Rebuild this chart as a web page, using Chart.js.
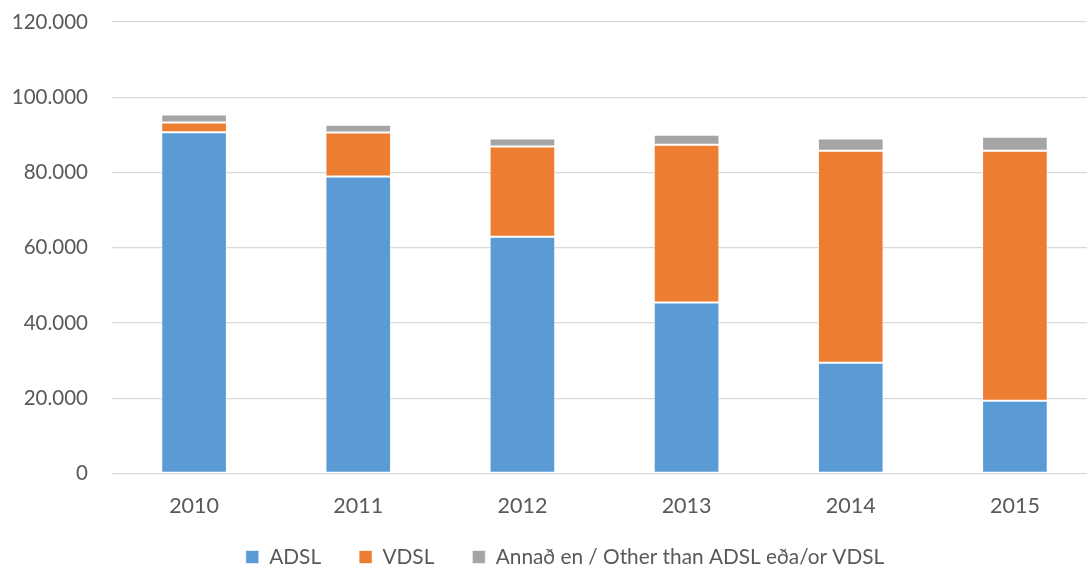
<!DOCTYPE html>
<html>
<head>
<meta charset="utf-8">
<script src="https://cdn.jsdelivr.net/npm/chart.js@4"></script>
<style>
html,body{margin:0;padding:0;background:#fff;overflow:hidden;width:1087px;height:568px;}
#wrap{position:relative;width:1130px;height:568px;}
</style>
</head>
<body>
<div id="wrap"><canvas id="c" width="1130" height="568"></canvas></div>
<script>
const categories = ['2010','2011','2012','2013','2014','2015'];
const adsl  = [90700, 78900, 62900, 45400, 29400, 19300];
const vdsl  = [2600, 11700, 24000, 42000, 56400, 66500];
const other = [2100, 2100, 2100, 2650, 3200, 3700];
const seriesNames = ['ADSL', 'VDSL', 'Annað en / Other than ADSL eða/or VDSL'];
const yMin = 0, yMax = 120000, yStep = 20000;

function fmt(v){ return String(v).replace(/\B(?=(\d{3})+(?!\d))/g, '.'); }

const FONT = 'Lato';
const LEGEND_PAD = 38, LEGEND_FONT = 20.8, LEGEND_CENTER_Y = 557;

const legendPlace = {
  id: 'legendPlace',
  afterLayout(chart) {
    const L = chart.legend;
    if (!L) return;
    const h = L.height;
    L.left = 0; L.right = chart.width; L.width = chart.width;
    L.top = LEGEND_CENTER_Y - LEGEND_PAD - LEGEND_FONT / 2;
    L.bottom = L.top + h;
  }
};

const ctx = document.getElementById('c').getContext('2d');
new Chart(ctx, {
  type: 'bar',
  data: {
    labels: categories,
    datasets: [
      {label: seriesNames[0], data: adsl, backgroundColor: '#5B9BD5', borderColor: 'rgba(255,255,255,0.6)', borderWidth: 1, borderSkipped: false},
      {label: seriesNames[1], data: vdsl, backgroundColor: '#ED7D31', borderColor: 'rgba(255,255,255,0.6)', borderWidth: 1, borderSkipped: false},
      {label: seriesNames[2], data: other, backgroundColor: '#A5A5A5', borderColor: 'rgba(255,255,255,0.6)', borderWidth: 1, borderSkipped: false}
    ]
  },
  plugins: [legendPlace],
  options: {
    responsive: false,
    animation: false,
    layout: {padding: {top: 22, right: 33, left: 0, bottom: -40}},
    datasets: {bar: {categoryPercentage: 1, barPercentage: 0.4}},
    plugins: {
      tooltip: {enabled: false},
      legend: {
        position: 'bottom',
        labels: {
          boxWidth: 13, boxHeight: 13, padding: LEGEND_PAD,
          color: '#595959',
          font: {family: FONT, size: LEGEND_FONT}
        }
      }
    },
    scales: {
      x: {
        stacked: true,
        grid: {display: false, drawTicks: false},
        border: {display: false},
        ticks: {color: '#595959', font: {family: FONT, size: 21.5}, padding: 20}
      },
      y: {
        stacked: true,
        min: yMin, max: yMax,
        afterFit: s => { s.width = 112; s.paddingTop = 0; s.paddingBottom = 0; },
        grid: {color: '#D9D9D9', lineWidth: 1.3, drawTicks: false},
        border: {display: false},
        ticks: {stepSize: yStep, color: '#595959', font: {family: FONT, size: 20.5}, padding: 24,
                callback: v => fmt(v)}
      }
    }
  }
});
</script>
</body>
</html>
